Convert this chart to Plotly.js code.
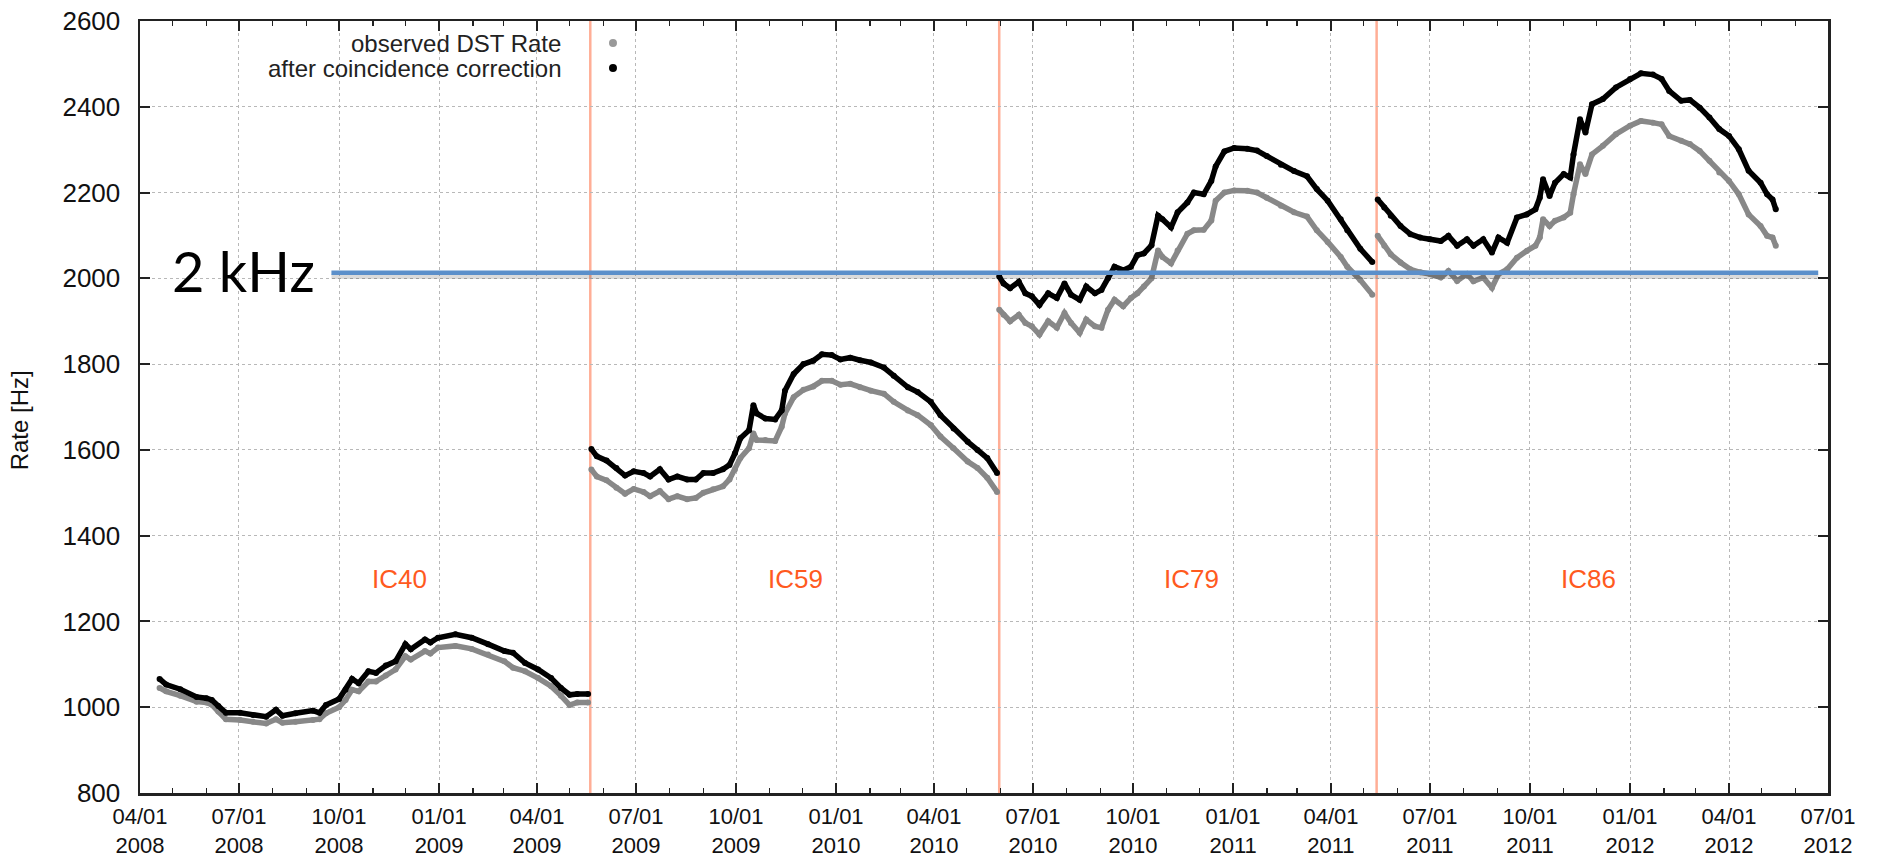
<!DOCTYPE html>
<html>
<head>
<meta charset="utf-8">
<script src="https://cdn.plot.ly/plotly-3.0.1.min.js"></script>
<style>html,body{margin:0;padding:0;background:#fff;}#chart{width:1881px;height:859px;}</style>
</head>
<body>
<div id="chart"></div>
<script>
// ---------- data ----------
const ic40Dates = ['2008-04-19','2008-04-25','2008-05-08','2008-05-23','2008-06-01','2008-06-06','2008-06-12','2008-06-19','2008-07-02','2008-07-14','2008-07-26','2008-08-04','2008-08-10','2008-08-22','2008-09-07','2008-09-13','2008-09-19','2008-10-01','2008-10-07','2008-10-13','2008-10-19','2008-10-28','2008-11-04','2008-11-13','2008-11-22','2008-12-01','2008-12-06','2008-12-19','2008-12-24','2008-12-31','2009-01-16','2009-01-31','2009-02-15','2009-03-02','2009-03-10','2009-03-21','2009-04-02','2009-04-14','2009-04-23','2009-05-01','2009-05-08','2009-05-18'];
const ic40Observed = [1045,1037,1027,1013,1011,1006,990,972,970,966,962,972,964,966,970,972,986,1000,1017,1041,1037,1060,1060,1074,1088,1119,1111,1131,1125,1139,1143,1136,1123,1107,1092,1084,1068,1049,1027,1005,1011,1011];
const ic40Corrected = [1066,1053,1042,1024,1021,1017,1003,987,987,982,978,994,980,986,992,987,1005,1019,1041,1066,1056,1084,1080,1097,1107,1147,1135,1158,1151,1162,1170,1162,1147,1131,1127,1103,1088,1068,1045,1029,1031,1031];

const ic59Dates = ['2009-05-21','2009-05-26','2009-06-04','2009-06-13','2009-06-21','2009-06-29','2009-07-08','2009-07-14','2009-07-23','2009-07-31','2009-08-08','2009-08-17','2009-08-25','2009-09-01','2009-09-10','2009-09-19','2009-09-25','2009-09-30','2009-10-05','2009-10-13','2009-10-17','2009-10-20','2009-10-28','2009-11-06','2009-11-12','2009-11-15','2009-11-23','2009-12-02','2009-12-11','2009-12-19','2009-12-28','2010-01-05','2010-01-14','2010-01-23','2010-02-02','2010-02-14','2010-02-23','2010-03-08','2010-03-17','2010-03-29','2010-04-07','2010-04-19','2010-05-02','2010-05-11','2010-05-20','2010-05-29'];
const ic59Observed = [1554,1538,1529,1512,1498,1509,1502,1492,1504,1485,1492,1485,1488,1500,1508,1515,1531,1554,1581,1604,1638,1623,1623,1621,1654,1685,1723,1740,1748,1761,1761,1752,1754,1746,1738,1731,1712,1692,1681,1658,1631,1604,1573,1558,1535,1502];
const ic59Corrected = [1602,1585,1575,1558,1540,1550,1546,1538,1555,1531,1538,1531,1531,1546,1546,1555,1565,1592,1627,1646,1704,1685,1673,1671,1692,1738,1777,1800,1808,1823,1821,1811,1815,1809,1804,1792,1773,1746,1735,1712,1681,1650,1619,1600,1581,1546];

const ic79Dates = ['2010-05-31','2010-06-04','2010-06-10','2010-06-18','2010-06-24','2010-06-30','2010-07-07','2010-07-15','2010-07-23','2010-07-30','2010-08-05','2010-08-13','2010-08-19','2010-08-27','2010-09-02','2010-09-08','2010-09-14','2010-09-22','2010-09-29','2010-10-05','2010-10-11','2010-10-18','2010-10-24','2010-10-28','2010-11-05','2010-11-11','2010-11-20','2010-11-26','2010-12-05','2010-12-12','2010-12-16','2010-12-24','2011-01-02','2011-01-14','2011-01-23','2011-02-01','2011-02-14','2011-02-26','2011-03-10','2011-03-19','2011-03-29','2011-04-10','2011-04-16','2011-04-28','2011-05-09'];
const ic79Observed = [1927,1915,1900,1915,1896,1888,1869,1900,1885,1919,1896,1873,1904,1888,1885,1927,1950,1935,1954,1965,1981,2000,2065,2050,2035,2065,2104,2112,2113,2135,2181,2200,2205,2204,2200,2188,2169,2154,2144,2112,2085,2050,2027,1996,1962];
const ic79Corrected = [2004,1988,1977,1992,1965,1958,1938,1965,1954,1988,1962,1950,1981,1965,1973,2000,2027,2019,2027,2054,2058,2077,2146,2138,2119,2154,2177,2200,2196,2227,2261,2296,2304,2302,2298,2285,2265,2250,2238,2208,2181,2138,2112,2069,2038];

const ic86Dates = ['2011-05-14','2011-05-20','2011-05-26','2011-06-04','2011-06-13','2011-06-22','2011-07-01','2011-07-11','2011-07-18','2011-07-26','2011-08-04','2011-08-10','2011-08-19','2011-08-27','2011-09-02','2011-09-10','2011-09-19','2011-09-28','2011-10-06','2011-10-10','2011-10-13','2011-10-19','2011-10-24','2011-11-01','2011-11-07','2011-11-10','2011-11-16','2011-11-21','2011-11-27','2011-12-07','2011-12-19','2012-01-01','2012-01-11','2012-01-22','2012-01-30','2012-02-06','2012-02-17','2012-02-25','2012-03-05','2012-03-14','2012-03-23','2012-04-01','2012-04-10','2012-04-19','2012-04-30','2012-05-06','2012-05-11','2012-05-14'];
const ic86Observed = [2099,2076,2056,2037,2021,2014,2010,2002,2017,1994,2010,1993,2002,1978,2010,2021,2048,2064,2076,2095,2138,2122,2134,2142,2153,2196,2266,2243,2289,2309,2336,2356,2367,2363,2359,2332,2321,2313,2297,2274,2247,2227,2196,2149,2122,2099,2095,2076];
const ic86Corrected = [2184,2165,2146,2122,2103,2095,2091,2087,2099,2076,2091,2076,2091,2060,2095,2083,2142,2149,2161,2188,2231,2192,2223,2243,2235,2289,2371,2340,2406,2418,2445,2465,2478,2475,2465,2437,2414,2416,2398,2375,2348,2332,2301,2251,2223,2196,2184,2161];

const seriesNames = ['observed DST Rate', 'after coincidence correction'];
const configBoundaries = ['2009-05-20', '2010-05-31', '2011-05-13'];
const configLabels = ['IC40', 'IC59', 'IC79', 'IC86'];
const configLabelDates = ['2008-11-26', '2009-11-25', '2010-11-24', '2011-11-24'];
const configLabelRates = [1300, 1300, 1300, 1300];

const thresholdRate = [2013];
const thresholdDates = ['2008-09-24', '2012-06-22'];
const thresholdLabel = '2 kHz';

const tickDates = ['2008-04-01','2008-07-01','2008-10-01','2009-01-01','2009-04-01','2009-07-01','2009-10-01','2010-01-01','2010-04-01','2010-07-01','2010-10-01','2011-01-01','2011-04-01','2011-07-01','2011-10-01','2012-01-01','2012-04-01','2012-07-01'];
const tickMonthDay = ['04/01','07/01','10/01','01/01','04/01','07/01','10/01','01/01','04/01','07/01','10/01','01/01','04/01','07/01','10/01','01/01','04/01','07/01'];
const tickYears = ['2008','2008','2008','2009','2009','2009','2009','2010','2010','2010','2010','2011','2011','2011','2011','2012','2012','2012'];

// ---------- chart ----------
const GREY = '#888888', BLACK = '#000000';
const segments = [
  [ic40Dates, ic40Observed, ic40Corrected],
  [ic59Dates, ic59Observed, ic59Corrected],
  [ic79Dates, ic79Observed, ic79Corrected],
  [ic86Dates, ic86Observed, ic86Corrected]
];
const traces = [];
segments.forEach(function (s) {
  traces.push({x: s[0], y: s[1], type: 'scatter', mode: 'lines+markers', name: seriesNames[0],
    line: {color: GREY, width: 5.5}, marker: {color: GREY, size: 6}, showlegend: false, hoverinfo: 'x+y'});
});
segments.forEach(function (s) {
  traces.push({x: s[0], y: s[2], type: 'scatter', mode: 'lines+markers', name: seriesNames[1],
    line: {color: BLACK, width: 5.5}, marker: {color: BLACK, size: 6}, showlegend: false, hoverinfo: 'x+y'});
});

const tickText = tickMonthDay.map(function (m, i) { return m + '<br>' + tickYears[i]; });

const FONT = 'Liberation Sans, Arial, sans-serif';
const shapes = [];
configBoundaries.forEach(function (d) {
  shapes.push({type: 'line', xref: 'x', yref: 'paper', x0: d, x1: d, y0: 0, y1: 1,
    line: {color: 'rgba(255,120,80,0.6)', width: 2.5}, layer: 'below'});
});
// threshold line with soft shadow
shapes.push({type: 'line', xref: 'x', yref: 'y', x0: thresholdDates[0], x1: thresholdDates[1],
  y0: thresholdRate[0] - 9, y1: thresholdRate[0] - 9, line: {color: 'rgba(0,0,0,0.14)', width: 5}, layer: 'above'});
shapes.push({type: 'line', xref: 'x', yref: 'y', x0: thresholdDates[0], x1: thresholdDates[1],
  y0: thresholdRate[0], y1: thresholdRate[0], line: {color: '#5b8fca', width: 4.5}, layer: 'above'});
// legend symbols
shapes.push({type: 'circle', xref: 'paper', yref: 'paper', xsizemode: 'pixel', ysizemode: 'pixel',
  xanchor: 0.2802, yanchor: 0.9715, x0: -4, x1: 4, y0: -4, y1: 4, fillcolor: '#999', line: {width: 0}});
shapes.push({type: 'circle', xref: 'paper', yref: 'paper', xsizemode: 'pixel', ysizemode: 'pixel',
  xanchor: 0.2802, yanchor: 0.9391, x0: -4, x1: 4, y0: -4, y1: 4, fillcolor: '#000', line: {width: 0}});

const annotations = [];
configLabels.forEach(function (t, i) {
  annotations.push({x: configLabelDates[i], y: configLabelRates[i], xref: 'x', yref: 'y', text: t,
    showarrow: false, font: {family: FONT, size: 26, color: '#ff5a1e'}});
});
annotations.push({x: '2008-04-29', y: 2019, xref: 'x', yref: 'y', xanchor: 'left', yanchor: 'middle',
  text: thresholdLabel, showarrow: false, font: {family: 'Lato, Noto Sans, sans-serif', size: 56, color: '#000'}});
annotations.push({x: -0.0806, y: 1670, xref: 'paper', yref: 'y', text: 'Rate [Hz]', textangle: -90,
  showarrow: false, font: {family: FONT, size: 24, color: '#111'}});
annotations.push({x: 0.2506, y: 0.9715, xref: 'paper', yref: 'paper', xanchor: 'right', yanchor: 'middle',
  text: seriesNames[0], showarrow: false, font: {family: FONT, size: 24, color: '#222'}});
annotations.push({x: 0.2506, y: 0.9391, xref: 'paper', yref: 'paper', xanchor: 'right', yanchor: 'middle',
  text: seriesNames[1], showarrow: false, font: {family: FONT, size: 24, color: '#222'}});

const xRange = ['2008-04-01', '2012-07-01'];
const layout = {
  width: 1881, height: 859,
  margin: {l: 140, r: 53, t: 21, b: 66},
  paper_bgcolor: '#fff', plot_bgcolor: '#fff',
  showlegend: false,
  font: {family: FONT, color: '#111'},
  xaxis: {
    type: 'date', range: xRange, tickmode: 'array', tickvals: tickDates, ticktext: tickText,
    ticks: 'inside', ticklen: 10, tickwidth: 2, tickcolor: '#222',
    showline: true, linecolor: '#222', linewidth: 2.5, mirror: 'allticks',
    showgrid: true, gridcolor: '#b8b8b8', griddash: 'dot', gridwidth: 1, zeroline: false,
    ticklabelstandoff: 2,
    tickfont: {family: FONT, size: 22, color: '#111'},
    minor: {dtick: 'M1', tick0: '2008-04-01', ticks: 'inside', ticklen: 5, tickwidth: 1.5, tickcolor: '#222', showgrid: false}
  },
  yaxis: {
    range: [800, 2600], tick0: 800, dtick: 200,
    ticks: 'inside', ticklen: 10, tickwidth: 2, tickcolor: '#222',
    showline: true, linecolor: '#222', linewidth: 2.5, mirror: 'allticks',
    showgrid: true, gridcolor: '#b8b8b8', griddash: 'dot', gridwidth: 1, zeroline: false,
    ticklabelstandoff: 12,
    tickfont: {family: FONT, size: 26, color: '#111'}
  },
  shapes: shapes,
  annotations: annotations
};

Plotly.newPlot('chart', traces, layout, {displayModeBar: false, staticPlot: true});
</script>
</body>
</html>
